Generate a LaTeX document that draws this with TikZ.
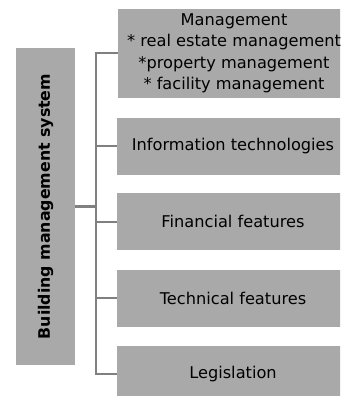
\documentclass[tikz,border=0pt]{standalone}
\usepackage{fontspec}
\setmainfont{DejaVu Sans}
\definecolor{boxgray}{HTML}{A9A9A9}
\definecolor{linegray}{HTML}{808080}

\begin{document}
\begin{tikzpicture}[x=1pt,y=-1pt,
  box/.style={fill=boxgray, inner sep=0pt, align=center, font=\fontsize{16.2}{21.5}\selectfont},
  link/.style={draw=linegray, line width=2pt}]
\useasboundingbox (0,0) rectangle (340,396);
\clip (0,0) rectangle (340,396);

% system on the left
\node[box, rotate=90, minimum width=317pt, minimum height=59pt,
  font=\fontsize{15.8}{21}\selectfont\bfseries] (bms) at (45.5,206.5) {Building management system};

% parts on the right
\node[box, minimum width=232pt, minimum height=89pt] (mgmt) at (234,53.5)
  {Management\\* real estate management\\*property management\\* facility management};
\foreach \name/\y/\txt in {info/146/Information technologies, fin/221.5/Financial features,
  tech/298/Technical features, leg/374/Legislation}
  \node[box, minimum width=232pt, minimum height=57pt] (\name) at (233,\y) {\txt};

% bracket
\coordinate (hub) at (96,206.5);
\draw[link, line width=3pt] (bms) -- (hub);
\foreach \name in {mgmt,info,fin,tech,leg}
  \draw[link] (hub) |- (\name);
\end{tikzpicture}
\end{document}
